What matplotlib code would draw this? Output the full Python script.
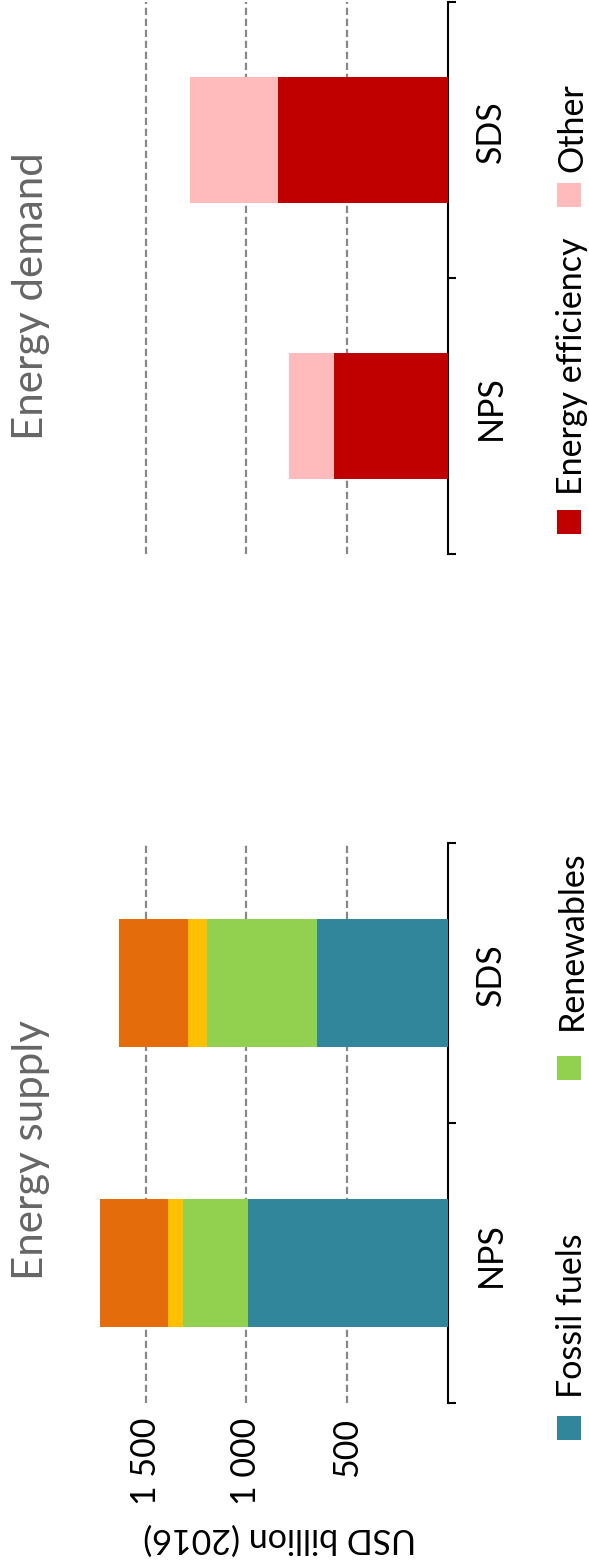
import matplotlib
matplotlib.use("Agg")
import matplotlib.pyplot as plt
from matplotlib.patches import Rectangle
from matplotlib.transforms import ScaledTranslation

plt.rcParams['font.family'] = ['Lato', 'DejaVu Sans']

# Investment, USD billion (2016)
scenarios = ["NPS", "SDS"]

supply_series = ["Fossil fuels", "Renewables", "Nuclear", "Electricity networks"]
fossil_fuels = [990, 650]
renewables = [325, 545]
nuclear = [75, 95]
networks = [335, 340]

demand_series = ["Energy efficiency", "Other"]
efficiency = [565, 840]
demand_other = [220, 440]

value_ticks = [500, 1000, 1500]
value_tick_labels = ["500", "1 000", "1 500"]

supply_colors = ["#31869C", "#92D050", "#FFC000", "#E46C0A"]
demand_colors = ["#C00000", "#FFBBBB"]

W, H, DPI = 589, 1566, 100
fig = plt.figure(figsize=(W / DPI, H / DPI), dpi=DPI)
fig.patch.set_facecolor("white")

PX = 72 / DPI  # points per pixel
FS = 34 * PX
XMAX = 1800
right_px = 447.5
left_px = right_px - XMAX * 0.2013


def fig_rect(left, top, right, bottom):
    return [left / W, 1 - bottom / H, (right - left) / W, (bottom - top) / H]


ax_sup = fig.add_axes(fig_rect(left_px, 843, right_px, 1403))
ax_dem = fig.add_axes(fig_rect(left_px, 2, right_px, 554))


def stacked(ax, series, colors, height):
    pos = list(range(len(scenarios)))
    base = [0] * len(scenarios)
    for vals, col in zip(series, colors):
        ax.barh(pos, vals, left=base, height=height, color=col, linewidth=0, zorder=3)
        base = [b + v for b, v in zip(base, vals)]


stacked(ax_sup, [fossil_fuels, renewables, nuclear, networks], supply_colors, 0.455)
stacked(ax_dem, [efficiency, demand_other], demand_colors, 0.46)

for ax in (ax_sup, ax_dem):
    ax.set_xlim(XMAX, 0)
    ax.set_ylim(-0.5, 1.5)
    for s in ("left", "top", "bottom"):
        ax.spines[s].set_visible(False)
    ax.spines["right"].set_linewidth(1.5)
    ax.spines["right"].set_color("black")
    ax.set_xticks(value_ticks)
    ax.xaxis.grid(True, color="#888888", linestyle=(0, (3.3, 1.7)), linewidth=2.2 * PX, zorder=0)
    ax.tick_params(axis="x", length=0, labelsize=FS, pad=15 * PX, labelrotation=90)
    ax.yaxis.tick_right()
    ax.set_yticks(range(len(scenarios)))
    ax.set_yticklabels(scenarios)
    ax.set_yticks([-0.5, 0.5, 1.5], minor=True)
    ax.tick_params(axis="y", which="major", length=0, labelsize=FS, pad=27 * PX)
    ax.tick_params(axis="y", which="minor", length=8 * PX, width=1.5, color="black")
    for lab in ax.get_yticklabels():
        lab.set_rotation(90)
        lab.set_va("center")
        lab.set_transform(lab.get_transform() + ScaledTranslation(0, 8 / DPI, fig.dpi_scale_trans))
    ax.set_facecolor("none")

ax_sup.set_xticklabels(value_tick_labels)
ax_dem.set_xticklabels([])

ax_sup.set_xlabel("USD billion (2016)", fontsize=FS, rotation=180)
ax_sup.xaxis.set_label_coords((280 - left_px) / (right_px - left_px), -(1538 - 1403) / 560)
ax_sup.xaxis.label.set_va("center")

# Panel titles
title_kw = dict(rotation=90, rotation_mode="anchor", ha="left", va="baseline",
                color="#666666", fontsize=42 * PX, fontweight="normal")
fig.text(43 / W, 1 - 1280 / H, "Energy supply", **title_kw)
fig.text(43 / W, 1 - 440 / H, "Energy demand", **title_kw)

# Legend keys and labels
legend_items = [
    (supply_series[0], supply_colors[0], 1416, 1398),
    (supply_series[1], supply_colors[1], 1056, 1030),
    (demand_series[0], demand_colors[0], 510, 495),
    (demand_series[1], demand_colors[1], 183, 172),
]
for name, col, key_top, text_start in legend_items:
    fig.add_artist(Rectangle((557 / W, 1 - (key_top + 24) / H), 24 / W, 24 / H,
                             transform=fig.transFigure, facecolor=col, edgecolor="none"))
    fig.text(582 / W, 1 - text_start / H, name, rotation=90, rotation_mode="anchor",
             ha="left", va="baseline", fontsize=FS, color="black")

fig.savefig("out.png", dpi=DPI, facecolor="white")
